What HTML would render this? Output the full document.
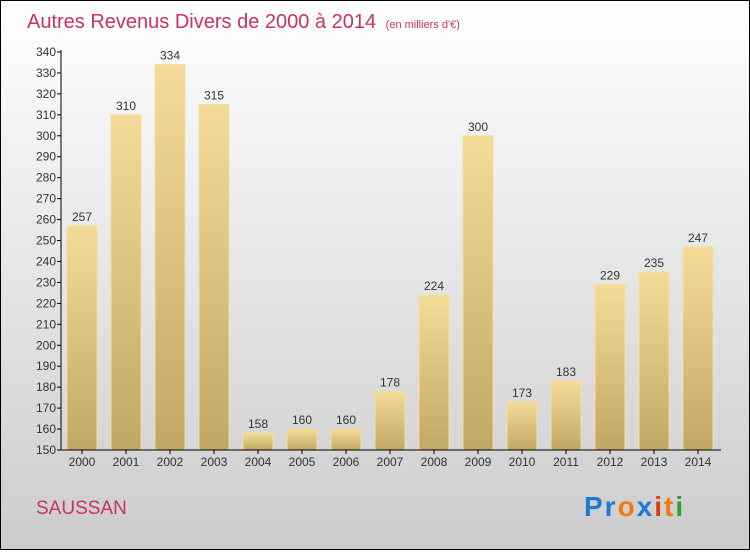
<!DOCTYPE html>
<html><head><meta charset="utf-8"><style>
body{margin:0;width:750px;height:550px;overflow:hidden;font-family:"Liberation Sans",sans-serif}
</style></head><body>
<svg width="750" height="550" xmlns="http://www.w3.org/2000/svg">
<defs>
<linearGradient id="bg" x1="0" y1="0" x2="0" y2="1"><stop offset="0" stop-color="#ffffff"/><stop offset="1" stop-color="#cccccc"/></linearGradient>
<linearGradient id="bar" x1="0" y1="0" x2="0" y2="1"><stop offset="0" stop-color="#f4dc98"/><stop offset="1" stop-color="#bfa864"/></linearGradient>
</defs>
<rect x="0.5" y="0.5" width="749" height="549" fill="url(#bg)" stroke="#000"/>
<text x="27" y="28" font-size="20" fill="#c8335e">Autres Revenus Divers de 2000 à 2014 <tspan font-size="11" dx="4">(en milliers d'€)</tspan></text>
<g id="plot"></g>
<text x="36" y="514" font-size="19" fill="#c8335e">SAUSSAN</text>
<text x="584" y="516" font-size="28" font-weight="bold" letter-spacing="2"><tspan fill="#1a7bd6">Pr</tspan><tspan fill="#f07a10">o</tspan><tspan fill="#1a7bd6">x</tspan><tspan fill="#e03a10">i</tspan><tspan fill="#f07a10">t</tspan><tspan fill="#33a02c">i</tspan></text>
</svg>
<script>
const categories=["2000","2001","2002","2003","2004","2005","2006","2007","2008","2009","2010","2011","2012","2013","2014"];
const values=[257,310,334,315,158,160,160,178,224,300,173,183,229,235,247];
const ticks=[150,160,170,180,190,200,210,220,230,240,250,260,270,280,290,300,310,320,330,340];
const NS="http://www.w3.org/2000/svg";
const g=document.getElementById('plot');
const y0=450,y1=52,vmin=150,vmax=340;
const y=v=>y0-(v-vmin)*(y0-y1)/(vmax-vmin);
const x=i=>82+i*44;
function el(t,a){const e=document.createElementNS(NS,t);for(const k in a)e.setAttribute(k,a[k]);g.appendChild(e);return e;}
categories.forEach((c,i)=>{
 const r=el('rect',{x:x(i)-15,y:y(values[i]),width:30,height:y0-y(values[i]),fill:'url(#bar)',stroke:'#f3e09a','stroke-width':1});
 
 
 const t=el('text',{x:x(i),y:y(values[i])-5,'font-size':12,fill:'#333','text-anchor':'middle'});t.textContent=values[i];
 
 
 const l=el('text',{x:x(i),y:466,'font-size':12,fill:'#333','text-anchor':'middle'});l.textContent=c;
 
 
 el('line',{x1:x(i),x2:x(i),y1:y0,y2:y0+4,stroke:'#000'});
});
ticks.forEach(v=>{
 el('line',{x1:57,x2:61,y1:y(v),y2:y(v),stroke:'#000'});
 const t=el('text',{x:56,y:y(v)+4,'font-size':12,fill:'#333','text-anchor':'end'});t.textContent=v;
 
 
});
const ya=el('line',{x1:61,x2:61,y1:y1-2,y2:y0,stroke:'#000'});


const xa=el('line',{x1:61,x2:721,y1:y0,y2:y0,stroke:'#000'});


</script>
</body></html>
